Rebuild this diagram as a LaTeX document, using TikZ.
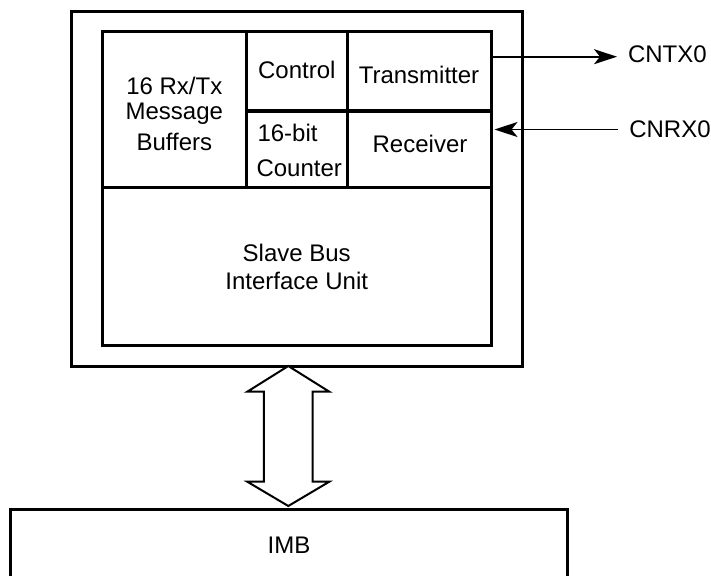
\documentclass[tikz,border=0pt]{standalone}
\usepackage{fontspec}
\setmainfont{Liberation Sans}
\usetikzlibrary{arrows.meta}
\begin{document}
\begin{tikzpicture}[x=1pt,y=-1pt,
  box/.style={draw=black, line width=3pt, rectangle, inner sep=0pt, outer sep=0pt, anchor=north west},
  lbl/.style={inner sep=0pt, outer sep=0pt, anchor=base, font=\fontsize{24}{28}\selectfont},
  sig/.style={draw=black, line width=1.7pt, -{Stealth[length=23pt,width=15pt,inset=6pt]}},
  bus/.style={draw=black, line width=2pt, fill=white, line join=miter}]
\useasboundingbox (0,0) rectangle (711,575);
\clip (0,0) rectangle (711,575);
% boxes
\node[box, minimum width=450.8pt, minimum height=354.3pt] (outer) at (71.5,11.7) {};
\node[box, minimum width=144.7pt, minimum height=156pt] (buf) at (102,31.7) {};
\node[box, minimum width=100.3pt, minimum height=79.3pt] (ctrl) at (246.7,31.7) {};
\node[box, minimum width=144.3pt, minimum height=79.3pt] (tx) at (347,31.7) {};
\node[box, minimum width=100.3pt, minimum height=76.7pt] (cnt) at (246.7,111) {};
\node[box, minimum width=144.3pt, minimum height=76.7pt] (rx) at (347,111) {};
\node[box, minimum width=389.3pt, minimum height=157.3pt] (sbiu) at (102,187.7) {};
\node[box, minimum width=557pt, minimum height=90pt] (imb) at (10.3,509.3) {};
% texts
\node[lbl] (t1a) at (174.3,94.3) {16 Rx/Tx};
\node[lbl] (t1b) at (174.3,119) {Message};
\node[lbl] (t1c) at (174.3,150) {Buffers};
\node[lbl] (t2) at (296.8,78.3) {Control};
\node[lbl] (t3) at (419,83.3) {Transmitter};
\node[lbl, anchor=base west] (t4a) at (257.5,141) {16-bit};
\node[lbl, anchor=base west] (t4b) at (256.5,176.7) {Counter};
\node[lbl] (t5) at (420,152.7) {Receiver};
\node[lbl] (t6a) at (296.7,261.7) {Slave Bus};
\node[lbl] (t6b) at (296.7,289.3) {Interface Unit};
\node[lbl] (t7) at (289,553.3) {IMB};
\node[lbl, anchor=base west] (cntx) at (628,62.5) {CNTX0};
\node[lbl, anchor=base west] (cnrx) at (629.3,137.3) {CNRX0};
% signal arrows
\coordinate (txs) at (tx.east |- 0,56.7);
\coordinate (txe) at (617,56.7);
\coordinate (rxs) at (618.3,129.5);
\coordinate (rxe) at (494.5,129.5);
\draw[sig] (txs) -- (txe);
\draw[sig] (rxs) -- (rxe);
% bus double arrow
\coordinate (bt) at (288.3,366);
\coordinate (bb) at (288.3,506);
\draw[bus] (bt) -- ++(41,25.7) -- ++(-16.6,0) -- ++(0,90) -- ++(16.6,0)
  -- (bb) -- ++(-41,-24.3) -- ++(16.6,0) -- ++(0,-90) -- ++(-16.6,0) -- cycle;
\end{tikzpicture}
\end{document}
